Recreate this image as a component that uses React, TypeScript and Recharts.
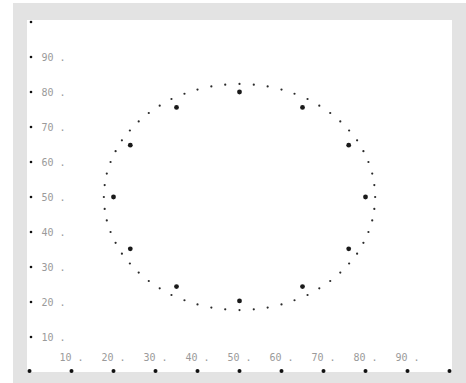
import React from 'react';
import { ScatterChart, Scatter, XAxis, YAxis } from 'recharts';

// tick values on both axes
const xTicks = [0, 10, 20, 30, 40, 50, 60, 70, 80, 90, 100];
const yTicks = [10, 20, 30, 40, 50, 60, 70, 80, 90, 100];
const labelled = [10, 20, 30, 40, 50, 60, 70, 80, 90];

// large markers (12 of them)
const bigX = [50, 65, 76, 80, 76, 65, 50, 35, 24, 20, 24, 35];
const bigY = [80, 75.6, 64.8, 50, 35.2, 24.4, 20.3, 24.4, 35.2, 50, 64.8, 75.6];

// small dots round the outer ring
const smallX = [
  50, 53.4, 56.7, 60, 63.1, 66.2, 69, 71.6, 74, 76.1, 78, 79.5, 80.7, 81.6, 82.1,
  82.3, 82.1, 81.6, 80.7, 79.5, 78, 76.1, 74, 71.6, 69, 66.2, 63.1, 60, 56.7, 53.4,
  50, 46.6, 43.3, 40, 36.9, 33.8, 31, 28.4, 26, 23.9, 22, 20.5, 19.3, 18.4, 17.9,
  17.7, 17.9, 18.4, 19.3, 20.5, 22, 23.9, 26, 28.4, 31, 33.8, 36.9, 40, 43.3, 46.6,
];
const smallY = [
  82.3, 82.1, 81.6, 80.7, 79.5, 78, 76.1, 74, 71.6, 69, 66.2, 63.1, 60, 56.7, 53.4,
  50, 46.6, 43.3, 40, 36.9, 33.8, 31, 28.4, 26, 23.9, 22, 20.5, 19.3, 18.4, 17.9,
  17.7, 17.9, 18.4, 19.3, 20.5, 22, 23.9, 26, 28.4, 31, 33.8, 36.9, 40, 43.3, 46.6,
  50, 53.4, 56.7, 60, 63.1, 66.2, 69, 71.6, 74, 76.1, 78, 79.5, 80.7, 81.6, 82.1,
];

const bigData = bigX.map((x, i) => ({ x, y: bigY[i] }));
const smallData = smallX.map((x, i) => ({ x, y: smallY[i] }));

const labelStyle = { fontFamily: 'DejaVu Sans Mono', fontSize: 10, fill: '#9a9a9a' };

const renderXTick = (props: any) => {
  const { x, y, payload } = props;
  const v = payload.value;
  return (
    <g key={`xt-${v}`}>
      <circle cx={x} cy={y - 1} r={2} fill="#111" />
      {labelled.includes(v) && (
        <text x={x} y={y - 11} textAnchor="middle" {...labelStyle}>{`${v} .`}</text>
      )}
    </g>
  );
};

const renderYTick = (props: any) => {
  const { x, y, payload } = props;
  const v = payload.value;
  return (
    <g key={`yt-${v}`}>
      <circle cx={x + 1.5} cy={y} r={1.3} fill="#111" />
      {labelled.includes(v) && (
        <text x={x + 12} y={y + 4} textAnchor="start" {...labelStyle}>{`${v} .`}</text>
      )}
    </g>
  );
};

const BigDot = (props: any) => <circle cx={props.cx} cy={props.cy} r={2.4} fill="#1a1a1a" />;
const SmallDot = (props: any) => <circle cx={props.cx} cy={props.cy} r={1.1} fill="#2a2a2a" />;

export default function App() {
  return (
    <div style={{ position: 'absolute', left: 0, top: 0, width: 466, height: 383, background: '#fff', overflow: 'hidden' }}>
      <div style={{ position: 'absolute', left: 13, top: 3, width: 453, height: 380, background: '#e3e3e3' }} />
      <div style={{ position: 'absolute', left: 27, top: 20, width: 425, height: 352, background: '#fff' }} />
      <div style={{ position: 'absolute', left: 0, top: 0 }}>
        <ScatterChart width={466} height={383} margin={{ top: 22, right: 16.5, bottom: 10, left: 28.5 }}>
          <XAxis
            type="number"
            dataKey="x"
            domain={[0, 100]}
            ticks={xTicks}
            interval={0}
            height={1}
            axisLine={false}
            tickLine={false}
            tickSize={0}
            tickMargin={0}
            tick={renderXTick}
          />
          <YAxis
            type="number"
            dataKey="y"
            domain={[0, 100]}
            ticks={yTicks}
            interval={0}
            width={1}
            axisLine={false}
            tickLine={false}
            tickSize={0}
            tickMargin={0}
            tick={renderYTick}
          />
          <Scatter data={smallData} shape={SmallDot} isAnimationActive={false} />
          <Scatter data={bigData} shape={BigDot} isAnimationActive={false} />
        </ScatterChart>
      </div>
    </div>
  );
}
